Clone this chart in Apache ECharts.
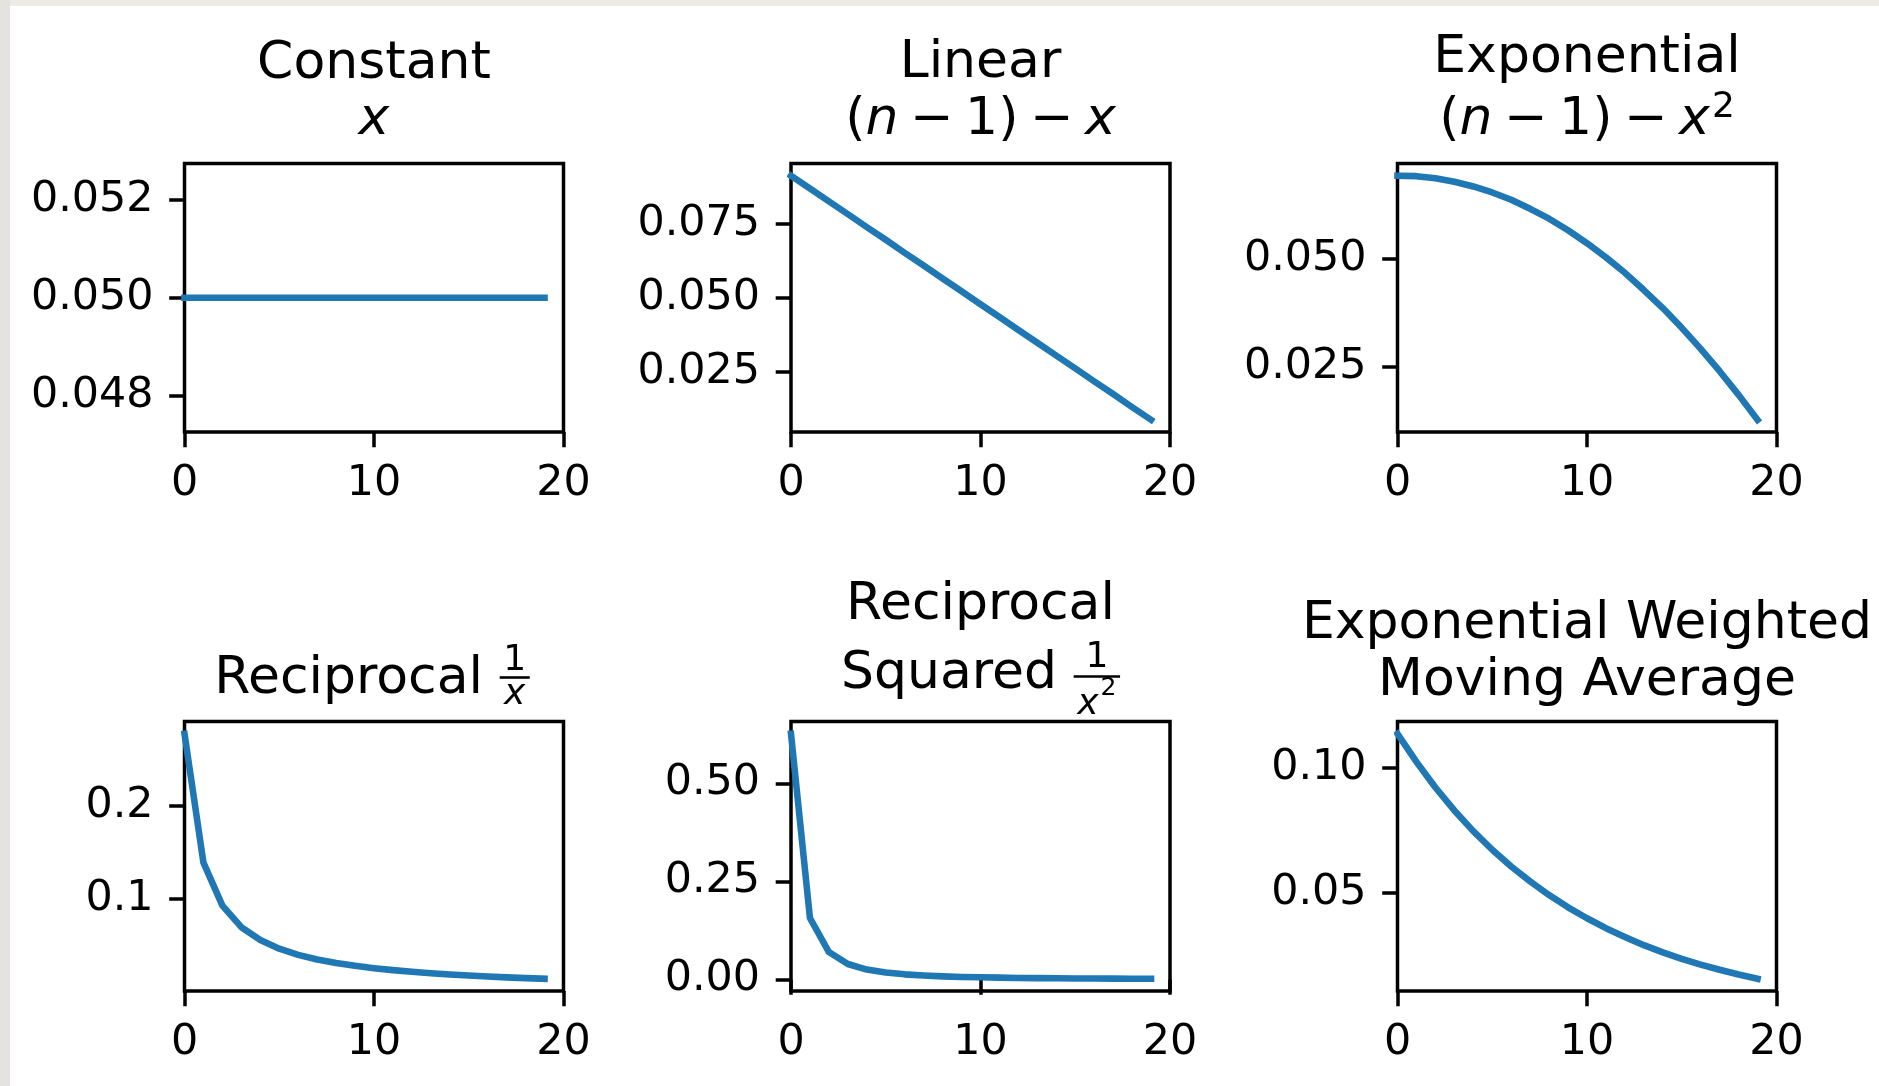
<!DOCTYPE html>
<html>
<head>
<meta charset="utf-8">
<script src="https://cdn.jsdelivr.net/npm/echarts@6/dist/echarts.min.js"></script>
<style>
  html, body { margin: 0; padding: 0; background: #ffffff; }
  #chart { width: 1879px; height: 1086px; }
</style>
</head>
<body>
<div id="chart"></div>
<script>
// ---------------- data ----------------
const steps = [0, 1, 2, 3, 4, 5, 6, 7, 8, 9, 10, 11, 12, 13, 14, 15, 16, 17, 18, 19];

const constantW = [0.05, 0.05, 0.05, 0.05, 0.05, 0.05, 0.05, 0.05, 0.05, 0.05,
                   0.05, 0.05, 0.05, 0.05, 0.05, 0.05, 0.05, 0.05, 0.05, 0.05];
const linearW = [0.0913, 0.0870, 0.0826, 0.0783, 0.0739, 0.0696, 0.0652, 0.0609, 0.0565, 0.0522,
                 0.0478, 0.0435, 0.0391, 0.0348, 0.0304, 0.0261, 0.0217, 0.0174, 0.0130, 0.0087];
const expW = [0.0694, 0.0693, 0.0688, 0.0680, 0.0669, 0.0655, 0.0638, 0.0617, 0.0594, 0.0567,
              0.0537, 0.0504, 0.0468, 0.0428, 0.0386, 0.0340, 0.0291, 0.0239, 0.0184, 0.0126];
const recipW = [0.2780, 0.1390, 0.0927, 0.0695, 0.0556, 0.0463, 0.0397, 0.0347, 0.0309, 0.0278,
                0.0253, 0.0232, 0.0214, 0.0199, 0.0185, 0.0174, 0.0164, 0.0154, 0.0146, 0.0139];
const recipSqW = [0.6265, 0.1566, 0.0696, 0.0392, 0.0251, 0.0174, 0.0128, 0.0098, 0.0077, 0.0063,
                  0.0052, 0.0044, 0.0037, 0.0032, 0.0028, 0.0024, 0.0022, 0.0019, 0.0017, 0.0016];
const ewmaW = [0.1138, 0.1025, 0.0922, 0.0830, 0.0747, 0.0672, 0.0605, 0.0545, 0.0490, 0.0441,
               0.0397, 0.0357, 0.0322, 0.0289, 0.0260, 0.0234, 0.0211, 0.0190, 0.0171, 0.0154];

const xTicks = [0, 10, 20];
const xTickLabels = ['0', '10', '20'];
const yTicks1 = [0.048, 0.050, 0.052];
const yTickLabels1 = ['0.048', '0.050', '0.052'];
const yTicks2 = [0.025, 0.050, 0.075];
const yTickLabels2 = ['0.025', '0.050', '0.075'];
const yTicks3 = [0.025, 0.050];
const yTickLabels3 = ['0.025', '0.050'];
const yTicks4 = [0.1, 0.2];
const yTickLabels4 = ['0.1', '0.2'];
const yTicks5 = [0.00, 0.25, 0.50];
const yTickLabels5 = ['0.00', '0.25', '0.50'];
const yTicks6 = [0.05, 0.10];
const yTickLabels6 = ['0.05', '0.10'];

// ---------------- layout / style ----------------
const FONT = 'DejaVu Sans';
const TICK_FS = 42.8;
const TITLE_FS = 52;
const LW = 3.5;
const BLUE = '#1f77b4';
const colLeft = [184.5, 791, 1397.5];
const colWidth = 379;
const rowTop = [163.5, 721.5];
const rowHeight = [268.5, 269.5];

function autoRange(vals) {
  let lo = Math.min(...vals), hi = Math.max(...vals);
  if (hi - lo < 1e-12) { lo = lo * 0.95; hi = hi * 1.05; }
  const m = (hi - lo) * 0.05;
  return [lo - m, hi + m];
}

const panels = [
  { data: constantW, ticks: yTicks1, labels: yTickLabels1 },
  { data: linearW, ticks: yTicks2, labels: yTickLabels2 },
  { data: expW, ticks: yTicks3, labels: yTickLabels3 },
  { data: recipW, ticks: yTicks4, labels: yTickLabels4 },
  { data: recipSqW, ticks: yTicks5, labels: yTickLabels5 },
  { data: ewmaW, ticks: yTicks6, labels: yTickLabels6 }
];

const grids = [], xAxes = [], yAxes = [], series = [];
panels.forEach((p, i) => {
  const r = Math.floor(i / 3), c = i % 3;
  grids.push({
    left: colLeft[c], top: rowTop[r], width: colWidth, height: rowHeight[r],
    show: true, borderColor: '#000', borderWidth: LW, backgroundColor: 'transparent',
    containLabel: false, outerBoundsMode: 'none'
  });
  xAxes.push({
    type: 'value', gridIndex: i, min: 0, max: 20,
    splitLine: { show: false },
    axisLine: { show: false },
    axisTick: { show: true, length: 15.3, lineStyle: { color: '#000', width: LW }, customValues: xTicks },
    axisLabel: {
      show: true, customValues: xTicks, margin: 30, color: '#000',
      fontFamily: FONT, fontSize: TICK_FS,
      formatter: v => xTickLabels[xTicks.indexOf(v)] ?? String(v)
    }
  });
  const rng = autoRange(p.data);
  yAxes.push({
    type: 'value', gridIndex: i, min: rng[0], max: rng[1], scale: true,
    splitLine: { show: false },
    axisLine: { show: false },
    axisTick: { show: true, length: 15.3, lineStyle: { color: '#000', width: LW }, customValues: p.ticks },
    axisLabel: {
      show: true, customValues: p.ticks, margin: 31, color: '#000',
      fontFamily: FONT, fontSize: TICK_FS, padding: [5, 0, 0, 0],
      formatter: v => {
        let k = p.ticks.findIndex(t => Math.abs(t - v) < 1e-9);
        return k >= 0 ? p.labels[k] : '';
      }
    }
  });
  series.push({
    type: 'line', xAxisIndex: i, yAxisIndex: i,
    data: steps.map((s, j) => [s, p.data[j]]),
    showSymbol: false, symbol: 'none', silent: true,
    lineStyle: { color: BLUE, width: 6.56, cap: 'square', join: 'round' },
    clip: true, z: 1
  });
});

// ---------------- titles (real text) ----------------
const colCenter = colLeft.map(l => l + colWidth / 2);
const mctx = document.createElement('canvas').getContext('2d');
function measure(t, size, italic) {
  mctx.font = (italic ? 'italic ' : '') + size + 'px "' + FONT + '"';
  return mctx.measureText(t).width;
}
function txt(x, y, text, opt) {
  opt = opt || {};
  const st = Object.assign({
    text: text, fill: '#000', fontFamily: FONT, fontSize: TITLE_FS,
    align: 'center', verticalAlign: 'middle'
  }, opt);
  st.textAlign = st.align; st.textVerticalAlign = st.verticalAlign;
  return { type: 'text', x: x, y: y, silent: true, z: 10, style: st };
}
// pieces laid out left-to-right, centred on cx
function mathLine(cx, y, pieces) {
  let widths = pieces.map(p => measure(p.t, p.size || TITLE_FS, p.italic) + (p.gap || 0) * TITLE_FS);
  let total = widths.reduce((a, b) => a + b, 0);
  let x = cx - total / 2;
  const out = [];
  pieces.forEach((p, k) => {
    x += (p.gap || 0) * TITLE_FS;
    out.push(txt(x, y + (p.dy || 0), p.t, { align: 'left', fontSize: p.size || TITLE_FS, fontStyle: p.italic ? 'italic' : 'normal' }));
    x += widths[k] - (p.gap || 0) * TITLE_FS;
  });
  return out;
}
const MINUS = '\u2212';
const G = 0.2222; // medium math space
const SUP = Math.round(TITLE_FS * 0.7);
const FR = Math.round(TITLE_FS * 0.7);
const FR2 = Math.round(TITLE_FS * 0.49);

const graphics = [
  // frame strips of the screenshot
  { type: 'rect', shape: { x: 0, y: 0, width: 1879, height: 6 }, style: { fill: '#ecebe6' }, silent: true, z: 0 },
  { type: 'rect', shape: { x: 0, y: 0, width: 10, height: 1086 }, style: { fill: '#e4e3df' }, silent: true, z: 0 },

  // row 1
  txt(colCenter[0], 64.5, 'Constant'),
  txt(colCenter[0], 120.7, 'x', { fontStyle: 'italic' }),
  txt(colCenter[1], 63.5, 'Linear'),
  ...mathLine(colCenter[1], 120.7, [
    { t: '(' }, { t: 'n', italic: true }, { t: MINUS, gap: G }, { t: '1', gap: G }, { t: ')' },
    { t: MINUS, gap: G }, { t: 'x', italic: true, gap: G }
  ]),
  txt(colCenter[2], 58.5, 'Exponential'),
  ...mathLine(colCenter[2], 120.7, [
    { t: '(' }, { t: 'n', italic: true }, { t: MINUS, gap: G }, { t: '1', gap: G }, { t: ')' },
    { t: MINUS, gap: G }, { t: 'x', italic: true, gap: G }, { t: '2', size: SUP, dy: -13, gap: 0.04 }
  ])
];

// row 2, col 1 : Reciprocal 1/x
(function () {
  const wWord = measure('Reciprocal', TITLE_FS) + 0.32 * TITLE_FS;
  const wFrac = Math.max(measure('1', FR), measure('x', FR, true)) + 0.2 * FR;
  const left = colCenter[0] - (wWord + wFrac) / 2 - 2;
  const fc = left + wWord + wFrac / 2;
  graphics.push(txt(left, 679.8, 'Reciprocal', { align: 'left' }));
  graphics.push(txt(fc, 660.5, '1', { fontSize: FR }));
  graphics.push({ type: 'line', shape: { x1: fc - wFrac / 2, y1: 677.5, x2: fc + wFrac / 2, y2: 677.5 }, style: { stroke: '#000', lineWidth: 2.6 }, silent: true, z: 10 });
  graphics.push(txt(fc, 695, 'x', { fontSize: FR, fontStyle: 'italic' }));
})();

// row 2, col 2 : Reciprocal / Squared 1/x^2
(function () {
  graphics.push(txt(colCenter[1], 605.5, 'Reciprocal'));
  const wWord = measure('Squared', TITLE_FS) + 0.32 * TITLE_FS;
  const wx = measure('x', FR, true), w2 = measure('2', FR2);
  const wFrac = Math.max(measure('1', FR), wx + w2 + 2) + 0.2 * FR;
  const left = colCenter[1] - (wWord + wFrac) / 2;
  const fc = left + wWord + wFrac / 2;
  graphics.push(txt(left, 674, 'Squared', { align: 'left' }));
  graphics.push(txt(fc, 658, '1', { fontSize: FR }));
  graphics.push({ type: 'line', shape: { x1: fc - wFrac / 2, y1: 676.5, x2: fc + wFrac / 2, y2: 676.5 }, style: { stroke: '#000', lineWidth: 2.6 }, silent: true, z: 10 });
  const dl = fc - (wx + w2 + 2) / 2;
  graphics.push(txt(dl, 705, 'x', { fontSize: FR, fontStyle: 'italic', align: 'left' }));
  graphics.push(txt(dl + wx + 2, 688, '2', { fontSize: FR2, align: 'left' }));
})();

// row 2, col 3
graphics.push(txt(colCenter[2], 624.5, 'Exponential Weighted'));
graphics.push(txt(colCenter[2], 681, 'Moving Average'));

const chart = echarts.init(document.getElementById('chart'), null, { renderer: 'canvas', width: 1879, height: 1086 });
chart.setOption({
  animation: false,
  backgroundColor: '#ffffff',
  grid: grids,
  xAxis: xAxes,
  yAxis: yAxes,
  series: series,
  graphic: graphics
});
</script>
</body>
</html>
